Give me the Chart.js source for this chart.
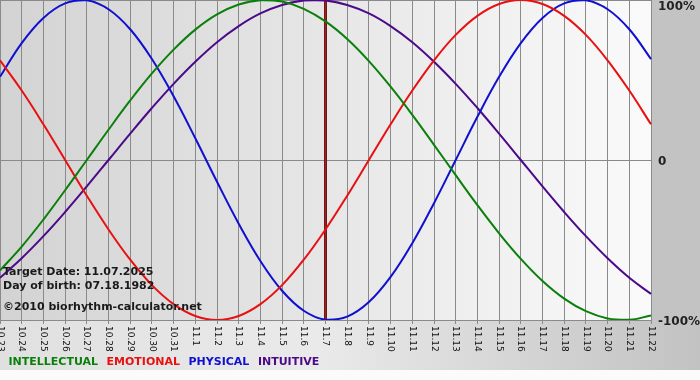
<!DOCTYPE html>
<html>
<head>
<meta charset="utf-8">
<script src="https://cdn.jsdelivr.net/npm/chart.js@4/dist/chart.umd.min.js"></script>
<style>
  html, body { margin: 0; padding: 0; background: #fbfbfb; }
  #wrap { width: 700px; height: 380px; }
</style>
</head>
<body>
<div id="wrap"><canvas id="bio"></canvas></div>
<script>
// dates shown on the x axis (10.23 .. 11.22)
const days = [
  "10.23", "10.24", "10.25", "10.26", "10.27", "10.28", "10.29", "10.30", "10.31",
  "11.1", "11.2", "11.3", "11.4", "11.5", "11.6", "11.7", "11.8", "11.9", "11.10",
  "11.11", "11.12", "11.13", "11.14", "11.15", "11.16", "11.17", "11.18", "11.19",
  "11.20", "11.21", "11.22",
];

const intellectual = [
  -0.69, -0.541, -0.372, -0.189, 0, 0.189, 0.372, 0.541, 0.69, 0.815, 0.91, 0.972,
  0.999, 0.99, 0.945, 0.866, 0.756, 0.618, 0.458, 0.282, 0.095, -0.095, -0.282,
  -0.458, -0.618, -0.756, -0.866, -0.945, -0.99, -0.999, -0.972,
];
const emotional = [
  0.623, 0.434, 0.223, 0, -0.223, -0.434, -0.623, -0.782, -0.901, -0.975, -1,
  -0.975, -0.901, -0.782, -0.623, -0.434, -0.223, 0, 0.223, 0.434, 0.623, 0.782,
  0.901, 0.975, 1, 0.975, 0.901, 0.782, 0.623, 0.434, 0.223,
];
const physical = [
  0.52, 0.731, 0.888, 0.979, 0.998, 0.942, 0.817, 0.631, 0.398, 0.136, -0.136,
  -0.398, -0.631, -0.817, -0.942, -0.998, -0.979, -0.888, -0.731, -0.52, -0.27, 0,
  0.27, 0.52, 0.731, 0.888, 0.979, 0.998, 0.942, 0.817, 0.631,
];
const intuitive = [
  -0.736, -0.614, -0.476, -0.325, -0.165, 0, 0.165, 0.325, 0.476, 0.614, 0.736,
  0.837, 0.916, 0.969, 0.997, 0.997, 0.969, 0.916, 0.837, 0.736, 0.614, 0.476,
  0.325, 0.165, 0, -0.165, -0.325, -0.476, -0.614, -0.736, -0.837,
];

const yTicks = [1, 0, -1];
const yLabels = ["100%", "0", "-100%"];
const targetDay = "11.7";
const infoLines = [
  "Target Date: 11.07.2025",
  "Day of birth: 07.18.1982",
  "\u00a92010 biorhythm-calculator.net",
];

const FONT = "'DejaVu Sans', Verdana, sans-serif";

// backgrounds, target marker, rotated day labels, % labels, info text
const decor = {
  id: "decor",
  beforeDraw(chart) {
    const ctx = chart.ctx;
    const a = chart.chartArea;
    ctx.save();
    ctx.fillStyle = "#fbfbfb";
    ctx.fillRect(0, 0, chart.width, chart.height);

    var g = ctx.createLinearGradient(0, 0, chart.width, 0);
    g.addColorStop(0, "#e0e0e0");
    g.addColorStop(0.45, "#eaeaea");
    g.addColorStop(1, "#c2c2c2");
    ctx.fillStyle = g;
    ctx.fillRect(0, a.bottom, chart.width, 370 - a.bottom);

    ctx.fillStyle = "#c3c3c3";
    ctx.fillRect(a.right, 0, chart.width - a.right, a.bottom);

    g = ctx.createLinearGradient(a.left, 0, a.right, 0);
    g.addColorStop(0, "#d3d3d3");
    g.addColorStop(1, "#fafafa");
    ctx.fillStyle = g;
    ctx.fillRect(a.left, a.top, a.right - a.left, a.bottom - a.top);
    ctx.restore();
  },
  beforeDatasetsDraw(chart) {
    const ctx = chart.ctx;
    const a = chart.chartArea;
    const x = chart.scales.x.getPixelForValue(days.indexOf(targetDay));
    ctx.save();
    ctx.strokeStyle = "#6a1818";
    ctx.lineWidth = 3;
    ctx.beginPath();
    ctx.moveTo(x, a.top);
    ctx.lineTo(x, a.bottom);
    ctx.stroke();
    ctx.strokeStyle = "#a82020";
    ctx.lineWidth = 1;
    ctx.beginPath();
    ctx.moveTo(x, a.top);
    ctx.lineTo(x, a.bottom);
    ctx.stroke();
    ctx.restore();
  },
  afterDatasetsDraw(chart) {
    const ctx = chart.ctx;
    const a = chart.chartArea;
    const xs = chart.scales.x;
    const ys = chart.scales.y;
    ctx.save();

    // day labels, turned clockwise
    ctx.fillStyle = "#111";
    ctx.font = "9px " + FONT;
    ctx.textAlign = "left";
    ctx.textBaseline = "middle";
    for (let i = 0; i < days.length; i++) {
      ctx.save();
      ctx.translate(xs.getPixelForTick(i), a.bottom + 6);
      ctx.rotate(Math.PI / 2);
      ctx.fillText(days[i], 0, 0);
      ctx.restore();
    }

    // percent labels on the right
    ctx.font = "bold 12px " + FONT;
    ctx.fillStyle = "#222";
    for (let i = 0; i < yTicks.length; i++) {
      const y = Math.max(ys.getPixelForValue(yTicks[i]) + 2, a.top + 7);
      ctx.fillText(yLabels[i], a.right + 7, y);
    }

    // info block
    ctx.font = "bold 11px " + FONT;
    ctx.fillStyle = "#1a1a1a";
    ctx.fillText(infoLines[0], 3, 272);
    ctx.fillText(infoLines[1], 3, 286);
    ctx.fillText(infoLines[2], 3, 307);
    ctx.restore();
  },
};

function series(label, data, color) {
  return {
    label: label,
    data: data,
    borderColor: color,
    backgroundColor: color,
    borderWidth: 2,
    pointRadius: 0,
    tension: 0.4,
    fill: false,
  };
}

new Chart(document.getElementById("bio"), {
  type: "line",
  data: {
    labels: days,
    datasets: [
      series("INTELLECTUAL", intellectual, "#0a7f0a"),
      series("EMOTIONAL", emotional, "#e81010"),
      series("PHYSICAL", physical, "#1010d0"),
      series("INTUITIVE", intuitive, "#4b0a8a"),
    ],
  },
  options: {
    responsive: true,
    maintainAspectRatio: false,
    animation: false,
    layout: { padding: { top: 0, left: 0, right: 0, bottom: 2.5 } },
    plugins: {
      tooltip: { enabled: false },
      legend: {
        position: "bottom",
        align: "start",
        labels: {
          boxWidth: 0.001,
          boxHeight: 0.001,
          padding: 3,
          font: { family: FONT, size: 11, weight: "bold" },
          generateLabels: function (chart) {
            return chart.data.datasets.map(function (d, i) {
              return {
                text: d.label,
                fontColor: d.borderColor,
                fillStyle: "rgba(0,0,0,0)",
                strokeStyle: "rgba(0,0,0,0)",
                lineWidth: 0,
                hidden: false,
                datasetIndex: i,
              };
            });
          },
        },
      },
    },
    scales: {
      x: {
        offset: false,
        grid: { color: "#8a8a8a", lineWidth: 1, tickLength: 4, drawTicks: true },
        border: { color: "#8a8a8a" },
        ticks: { display: false },
        afterFit: function (scale) {
          scale.height = 33.5;
        },
      },
      y: {
        position: "right",
        min: -1,
        max: 1,
        ticks: { display: false, stepSize: 1 },
        grid: { color: "#8a8a8a", lineWidth: 1, drawTicks: false },
        border: { color: "#8a8a8a" },
        afterFit: function (scale) {
          scale.width = 49;
        },
      },
    },
  },
  plugins: [decor],
});
</script>
</body>
</html>
